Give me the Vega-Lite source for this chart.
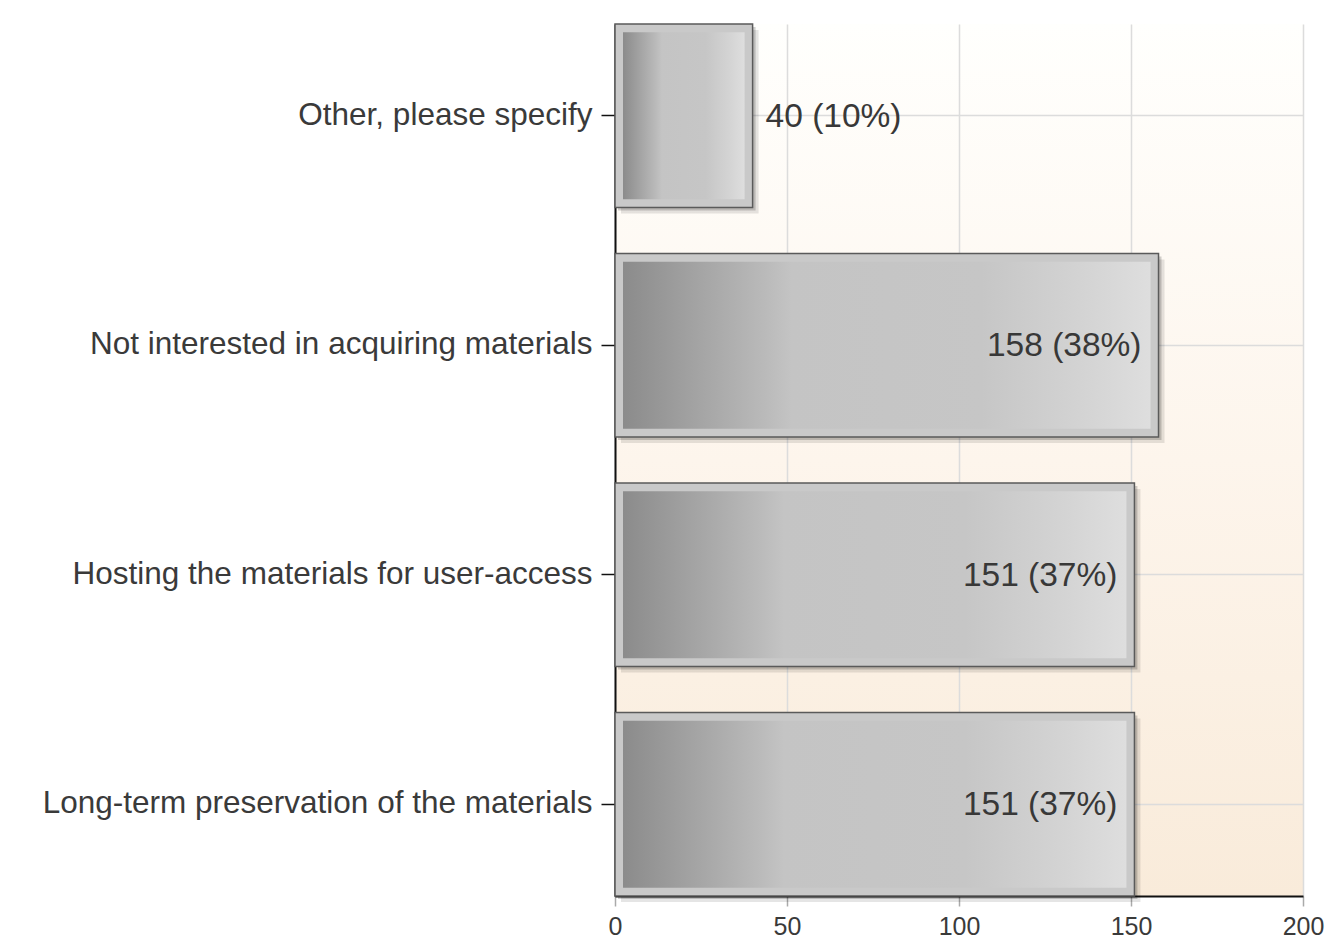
{
  "$schema": "https://vega.github.io/schema/vega-lite/v6.json",
  "autosize": {"type": "none"},
  "width": 688,
  "height": 872,
  "padding": {"left": 615, "top": 24, "right": 28, "bottom": 49},
  "background": "#ffffff",
  "view": {
    "stroke": null,
    "fill": {
      "gradient": "linear",
      "x1": 0, "y1": 0, "x2": 0, "y2": 1,
      "stops": [
        {"offset": 0, "color": "#fffffd"},
        {"offset": 0.5, "color": "#fdf5ec"},
        {"offset": 1, "color": "#f9ebda"}
      ]
    }
  },
  "data": {
    "values": [
      {"answer": "Other, please specify", "count": 40, "pct": 10},
      {"answer": "Not interested in acquiring materials", "count": 158, "pct": 38},
      {"answer": "Hosting the materials for user-access", "count": 151, "pct": 37},
      {"answer": "Long-term preservation of the materials", "count": 151, "pct": 37}
    ]
  },
  "transform": [
    {"calculate": "datum.count + ' (' + datum.pct + '%)'", "as": "label"}
  ],
  "encoding": {
    "y": {
      "field": "answer",
      "type": "nominal",
      "sort": null,
      "scale": {"paddingInner": 0.2, "paddingOuter": 0},
      "axis": {
        "title": null,
        "domainColor": "#111111",
        "domainWidth": 2,
        "tickColor": "#111111",
        "tickWidth": 1.5,
        "tickSize": 14,
        "labelFont": "Liberation Sans",
        "labelFontSize": 31.5,
        "labelColor": "#3a3a3a",
        "labelPadding": 9,
        "labelLimit": 700,
        "grid": true,
        "gridColor": "#dcdcdc",
        "gridWidth": 1.5
      }
    }
  },
  "layer": [
    {
      "mark": {"type": "bar", "color": "#000000", "opacity": 0.1, "xOffset": 6, "x2Offset": 6, "yOffset": 6},
      "encoding": {
        "x": {
          "field": "count",
          "type": "quantitative",
          "stack": null,
          "scale": {"domain": [0, 200], "nice": false},
          "axis": {
            "title": null,
            "values": [0, 50, 100, 150, 200],
            "labelFlush": false,
            "domainColor": "#111111",
            "domainWidth": 2,
            "tickColor": "#aaaaaa",
            "tickWidth": 1.5,
            "tickSize": 10,
            "labelFont": "Liberation Sans",
            "labelFontSize": 25,
            "labelColor": "#3a3a3a",
            "labelPadding": 8,
            "grid": true,
            "gridColor": "#dcdcdc",
            "gridWidth": 1.5
          }
        },
        "x2": {"datum": 0}
      }
    },
    {
      "mark": {"type": "bar", "color": "#000000", "opacity": 0.18, "xOffset": 3, "x2Offset": 3, "yOffset": 3},
      "encoding": {"x": {"field": "count", "type": "quantitative", "stack": null}, "x2": {"datum": 0}}
    },
    {
      "mark": {"type": "bar", "fill": "#c9c9c9", "stroke": "#5a5a5a", "strokeWidth": 1.5},
      "encoding": {"x": {"field": "count", "type": "quantitative", "stack": null}, "x2": {"datum": 0}}
    },
    {
      "mark": {
        "type": "bar",
        "xOffset": -8,
        "x2Offset": 8,
        "height": {"band": 0.91},
        "strokeWidth": 0,
        "fill": {
          "gradient": "linear",
          "x1": 0, "y1": 0, "x2": 1, "y2": 0,
          "stops": [
            {"offset": 0, "color": "#8b8b8b"},
            {"offset": 0.27, "color": "#bababa"},
            {"offset": 0.32, "color": "#c4c4c4"},
            {"offset": 0.68, "color": "#c6c6c6"},
            {"offset": 0.88, "color": "#d4d4d4"},
            {"offset": 1, "color": "#dedede"}
          ]
        }
      },
      "encoding": {"x": {"field": "count", "type": "quantitative", "stack": null}, "x2": {"datum": 0}}
    },
    {
      "transform": [{"filter": "datum.count >= 100"}],
      "mark": {"type": "text", "align": "right", "baseline": "middle", "dx": -17, "dy": 1, "font": "Liberation Sans", "fontSize": 33.5, "color": "#383838"},
      "encoding": {
        "x": {"field": "count", "type": "quantitative"},
        "text": {"field": "label"}
      }
    },
    {
      "transform": [{"filter": "datum.count < 100"}],
      "mark": {"type": "text", "align": "left", "baseline": "middle", "dx": 13, "dy": 1, "font": "Liberation Sans", "fontSize": 33.5, "color": "#383838"},
      "encoding": {
        "x": {"field": "count", "type": "quantitative"},
        "text": {"field": "label"}
      }
    }
  ]
}
